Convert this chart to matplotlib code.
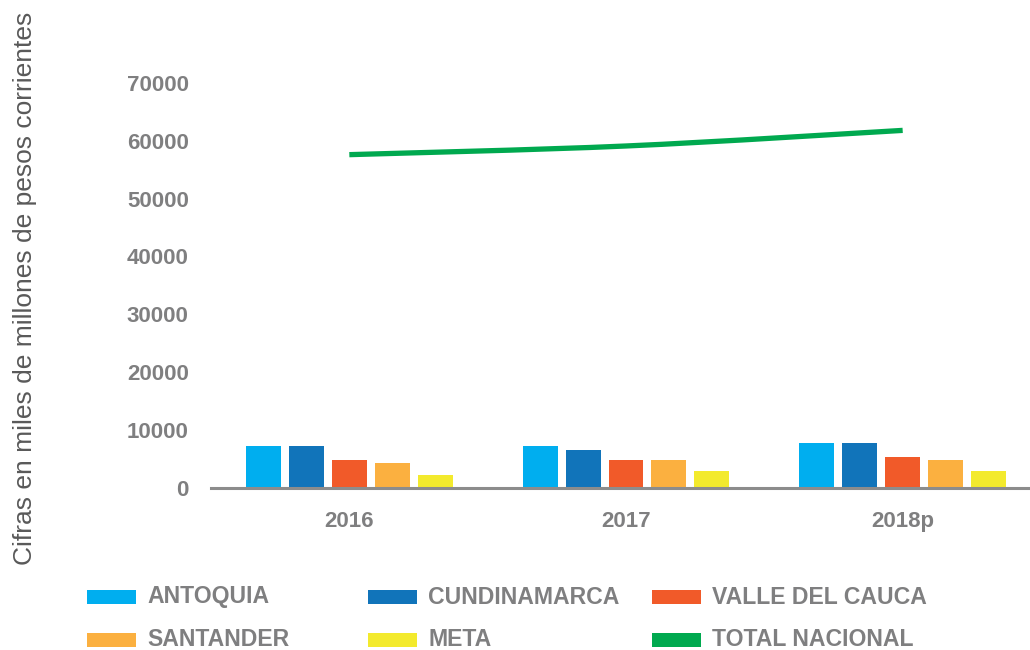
import matplotlib
matplotlib.use("Agg")
import matplotlib.pyplot as plt
from matplotlib.path import Path
from matplotlib.patches import PathPatch, Rectangle
import numpy as np

plt.rcParams['font.family'] = ['Liberation Sans', 'DejaVu Sans']

years = ["2016", "2017", "2018p"]
series_names = ["ANTOQUIA", "CUNDINAMARCA", "VALLE DEL CAUCA", "SANTANDER", "META"]
antioquia = [7200, 7200, 7730]
cundinamarca = [7200, 6510, 7730]
valle = [4770, 4770, 5300]
santander = [4250, 4770, 4770]
meta = [2170, 2860, 2860]
total_nacional = [57600, 59100, 61800]
total_name = "TOTAL NACIONAL"
y_ticks = [0, 10000, 20000, 30000, 40000, 50000, 60000, 70000]
y_label = "Cifras en miles de millones de pesos corrientes"

colors = ["#00AEEF", "#1174BA", "#F15A29", "#FBB040", "#F3EA2D"]
line_color = "#00A94F"
text_gray = "#7F7F80"

W, H = 1030, 650
fig = plt.figure(figsize=(W / 100, H / 100), dpi=100)
ax = fig.add_axes([211 / W, (H - 487.5) / H, 830 / W, (487.5 - 83) / H])

x = np.arange(len(years))
bar_w = 0.126
step = 0.155
all_series = [antioquia, cundinamarca, valle, santander, meta]
for i, (vals, c) in enumerate(zip(all_series, colors)):
    ax.bar(x + (i - 2) * step, vals, width=bar_w, color=c, zorder=2)

# smoothed line (Catmull-Rom style Bezier as in spreadsheet smoothing)
pts = np.column_stack([x, total_nacional]).astype(float)
ext = np.vstack([pts[0], pts, pts[-1]])
verts = [tuple(pts[0])]
codes = [Path.MOVETO]
for k in range(len(pts) - 1):
    p0, p1, p2, p3 = ext[k], ext[k + 1], ext[k + 2], ext[k + 3]
    c1 = p1 + (p2 - p0) / 6
    c2 = p2 - (p3 - p1) / 6
    verts += [tuple(c1), tuple(c2), tuple(p2)]
    codes += [Path.CURVE4] * 3
ax.add_patch(PathPatch(Path(verts, codes), facecolor="none", edgecolor=line_color,
                       lw=3.8, capstyle="butt", zorder=3))

ax.set_xlim(-0.5, 2.5)
ax.set_ylim(0, 70000)
ax.set_yticks(y_ticks)
ax.set_yticklabels([str(t) for t in y_ticks])
ax.set_xticks(x)
ax.set_xticklabels(years)
for s in ["top", "right", "left"]:
    ax.spines[s].set_visible(False)
ax.spines["bottom"].set_color("#8C8C8C")
ax.spines["bottom"].set_linewidth(2.2)
ax.tick_params(axis="both", length=0, labelsize=16, labelcolor=text_gray)
ax.tick_params(axis="y", pad=16)
ax.tick_params(axis="x", pad=17)
for lab in ax.get_xticklabels() + ax.get_yticklabels():
    lab.set_fontweight("bold")

fig.text(25 / W, 1 - 288 / H, y_label, rotation=90, ha="center", va="center",
         fontsize=19, color="#595959")

# legend
leg_names = series_names + [total_name]
leg_colors = colors + [line_color]
col_x = [87, 368, 652]
row_y = [597, 640]
for i, (name, c) in enumerate(zip(leg_names, leg_colors)):
    cx = col_x[i % 3]
    cy = row_y[i // 3]
    fig.patches.append(Rectangle((cx / W, 1 - (cy + 7) / H), 49 / W, 14 / H,
                                 transform=fig.transFigure, facecolor=c,
                                 edgecolor="none"))
    fig.text((cx + 60) / W, 1 - cy / H, name, ha="left", va="center",
             fontsize=16.6, fontweight="bold", color=text_gray)

fig.savefig("out.png", dpi=100, facecolor="white")
